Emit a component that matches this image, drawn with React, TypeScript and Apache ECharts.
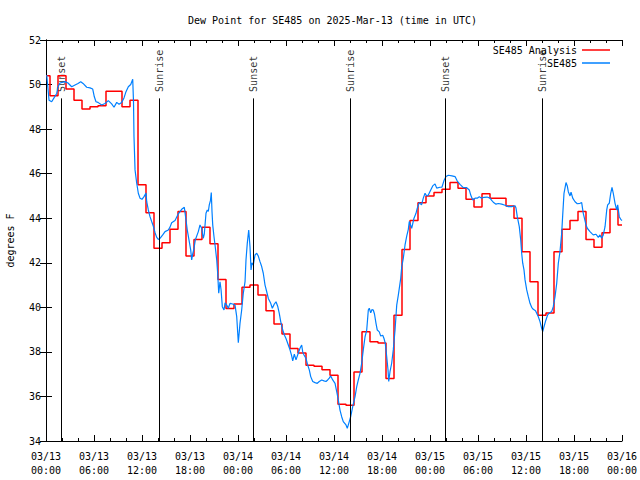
import React, { useEffect, useRef } from "react";
import * as echarts from "echarts";

const TITLE = "Dew Point for SE485 on 2025-Mar-13 (time in UTC)";
const Y_NAME = "degrees F";
const ANALYSIS_NAME = "SE485 Analysis";
const OBS_NAME = "SE485";

// hourly analysis values, hours 0..72 since 2025-03-13 00:00 UTC
const analysisValues = [
  50.4, 49.5, 50.4, 49.8, 49.3, 48.9, 49.0, 49.05, 49.7, 49.7, 49.0, 49.3,
  45.5, 44.25, 42.65, 42.9, 43.5, 44.3, 42.3, 43.05, 43.6, 42.85, 41.25, 39.95,
  40.15, 40.9, 41.0, 40.55, 39.85, 39.25, 38.8, 38.15, 37.95, 37.4, 37.35, 37.2,
  36.95, 35.65, 35.6, 37.1, 38.9, 38.45, 38.4, 36.8, 39.65, 42.6, 43.9, 44.7,
  45.0, 45.15, 45.3, 45.6, 45.35, 44.85, 44.5, 45.1, 44.9, 44.9, 44.55, 44.0,
  42.5, 41.15, 39.65, 39.75, 42.5, 43.5, 43.9, 44.3, 43.05, 42.7, 43.35, 44.4,
  43.7,
];

// observation times (hours since 2025-03-13 00:00 UTC)
const obsHours = [
  0.09, 0.38, 0.71, 1.0, 1.34, 1.5, 1.75, 2.38, 2.75, 3.21, 3.63, 4.0, 4.34, 4.63,
  5.09, 5.5, 5.84, 6.04, 6.25, 6.5, 6.96, 7.38, 7.79, 8.21, 8.5, 8.84, 9.13, 9.46,
  9.75, 10.0, 10.29, 10.59, 10.84, 10.94, 11.0, 11.13, 11.34, 11.54, 11.75, 12.0,
  12.25, 12.5, 12.59, 12.79, 13.0, 13.21, 13.41, 13.63, 13.84, 14.04, 14.25, 14.59,
  14.88, 15.29, 15.5, 15.71, 16.13, 16.54, 16.96, 17.29, 17.5, 17.66, 17.91, 18.09,
  18.21, 18.34, 18.5, 18.66, 19.04, 19.25, 19.46, 19.66, 19.79, 20.0, 20.16, 20.29,
  20.41, 20.56, 20.66, 20.75, 20.84, 21.0, 21.13, 21.34, 21.46, 21.59, 21.75, 21.88,
  22.04, 22.25, 22.38, 22.59, 22.79, 23.0, 23.34, 23.63, 23.84, 24.04, 24.25, 24.46,
  24.66, 24.88, 25.0, 25.16, 25.34, 25.5, 25.63, 25.75, 25.91, 26.13, 26.34, 26.54,
  26.75, 26.96, 27.16, 27.38, 27.59, 27.79, 28.09, 28.29, 28.54, 28.75, 28.96, 29.16,
  29.34, 29.59, 29.81, 30.0, 30.29, 30.5, 30.71, 30.84, 31.04, 31.25, 31.54, 31.75,
  31.96, 32.09, 32.25, 32.5, 32.71, 32.91, 33.09, 33.34, 33.63, 33.91, 34.16, 34.46,
  34.75, 35.0, 35.21, 35.41, 35.59, 35.84, 36.13, 36.34, 36.54, 36.75, 36.96, 37.16,
  37.5, 37.66, 37.91, 38.09, 38.34, 38.63, 38.84, 39.04, 39.25, 39.46, 39.66, 39.88,
  40.09, 40.29, 40.41, 40.59, 40.75, 40.91, 41.06, 41.25, 41.41, 41.66, 41.84, 42.09,
  42.25, 42.41, 42.59, 42.75, 42.84, 43.0, 43.21, 43.41, 43.63, 43.84, 44.04, 44.34,
  44.46, 44.66, 44.88, 45.09, 45.29, 45.41, 45.71, 46.0, 46.25, 46.41, 46.66, 46.94,
  47.16, 47.38, 47.59, 47.79, 48.0, 48.34, 48.63, 48.84, 49.25, 49.5, 49.75, 50.0,
  50.29, 50.75, 51.13, 51.41, 51.75, 52.16, 52.59, 52.91, 53.09, 53.34, 53.63, 53.91,
  54.16, 54.46, 54.75, 55.13, 55.5, 55.71, 55.91, 56.25, 56.54, 56.96, 57.38, 57.79,
  58.21, 58.63, 58.75, 58.91, 59.16, 59.34, 59.46, 59.59, 59.75, 59.88, 60.09, 60.29,
  60.5, 60.71, 60.91, 61.19, 61.54, 61.75, 61.96, 62.09, 62.25, 62.46, 62.71, 62.94,
  63.21, 63.41, 63.63, 63.84, 64.04, 64.25, 64.46, 64.59, 64.75, 65.0, 65.16, 65.29,
  65.5, 65.63, 65.84, 66.13, 66.41, 66.75, 66.96, 67.16, 67.5, 67.66, 68.0, 68.21,
  68.41, 68.75, 69.04, 69.25, 69.46, 69.66, 69.88, 70.09, 70.21, 70.41, 70.59, 70.75,
  70.91, 71.13, 71.34, 71.46, 71.66, 71.84, 72.0,
];

const obsValues = [
  50.43, 49.3, 49.23, 49.4, 49.6, 49.9, 50.07, 50.13, 50.07, 49.9, 49.98, 50.05, 50.13, 50.05,
  49.88, 49.85, 49.8, 49.45, 49.23, 49.2, 49.08, 49.15, 49.28, 49.13, 48.98, 49.2, 49.12, 49.2,
  49.4, 49.68, 49.9, 50.0, 50.24, 49.2, 47.66, 46.17, 45.57, 45.12, 44.9, 44.85,
  44.97, 45.13, 44.74, 44.37, 44.07, 43.85, 43.65, 43.35, 43.14, 43.05, 43.1, 43.25,
  43.4, 43.47, 43.6, 43.8, 43.9, 44.2, 44.4, 44.49, 43.92, 43.47, 42.95, 42.57,
  42.13, 42.4, 42.65, 43.02, 43.4, 43.7, 43.55, 43.1, 43.3, 44.22, 44.37, 44.3,
  44.6, 44.8, 45.15, 44.3, 43.7, 43.17, 42.8, 42.13, 41.53, 40.63, 41.15, 40.8,
  40.03, 39.88, 40.2, 40.1, 39.96, 40.18, 40.15, 40.1, 39.58, 38.41, 39.28, 39.88,
  40.63, 41.15, 42.13, 42.87, 43.47, 42.72, 41.68, 42.0, 41.9, 42.35, 42.43, 42.3,
  42.05, 41.83, 41.53, 41.0, 40.7, 40.4, 40.18, 39.96, 40.15, 40.25, 40.05, 39.73,
  39.36, 38.98, 38.75, 38.6, 38.31, 38.09, 37.82, 37.6, 37.9, 37.64, 37.95, 38.16,
  38.31, 38.0, 37.86, 37.71, 37.41, 37.19, 36.89, 36.67, 36.62, 36.59, 36.67, 36.74,
  36.7, 36.67, 36.74, 36.82, 36.92, 36.74, 36.59, 36.22, 35.84, 35.39, 35.09, 34.87,
  34.72, 34.57, 34.87, 35.1, 35.54, 35.99, 36.44, 36.74, 37.04, 37.49, 38.09, 38.68,
  38.98, 39.88, 39.96, 39.75, 39.9, 39.88, 39.7, 39.28, 38.98, 38.9, 38.71, 38.75,
  38.6, 38.38, 37.78, 37.2, 36.67, 37.11, 37.49, 38.09, 38.98, 40.1, 40.55, 41.3,
  41.8, 42.2, 42.8, 43.2, 43.5, 43.85, 43.55, 44.0, 44.22, 44.45, 44.7, 44.6,
  44.9, 45.12, 45.0, 45.04, 45.2, 45.45, 45.54, 45.35, 45.39, 45.4, 45.69, 45.87,
  45.93, 45.9, 45.87, 45.67, 45.52, 45.37, 45.37, 45.27, 45.04, 44.82, 44.9, 44.9,
  44.96, 44.9, 44.94, 44.95, 44.9, 44.8, 44.72, 44.63, 44.66, 44.63, 44.58, 44.52,
  44.52, 44.56, 44.46, 44.07, 43.62, 43.02, 42.43, 41.98, 41.68, 41.23, 40.78, 40.48,
  40.18, 40.0, 39.91, 39.85, 39.58, 39.36, 39.06, 38.91, 39.13, 39.4, 39.66, 39.75,
  39.81, 40.03, 40.48, 41.08, 41.98, 42.5, 43.32, 44.15, 45.12, 45.6, 45.45, 45.19,
  45.0, 45.17, 44.9, 44.74, 44.65, 44.67, 44.7, 44.22, 43.7, 43.55, 43.4, 43.32,
  43.25, 43.28, 43.14, 43.25, 43.1, 43.25, 43.62, 44.37, 44.6, 44.67, 45.12, 45.39,
  45.12, 44.67, 44.37, 44.6, 44.07, 43.95, 43.9,
];

const sunLabels = ["Sunset", "Sunrise", "Sunset", "Sunrise", "Sunset", "Sunrise"];
const sunHours = [1.9, 14.15, 25.9, 38.05, 49.9, 62.0];

const FONT = "'DejaVu Sans Mono', 'Liberation Mono', monospace";

export default function App() {
  const ref = useRef<HTMLDivElement>(null);
  useEffect(() => {
    if (!ref.current) return;
    const chart = echarts.init(ref.current, null, { renderer: "svg" });
    const fmtX = (v: number) => {
      const day = 13 + Math.floor(v / 24);
      const hh = v % 24;
      return `03/${day}\n${String(hh).padStart(2, "0")}:00`;
    };
    const lineTop = 49.38;
    const labelBase = 49.67;
    const xCommon = {
      type: "value",
      min: 0,
      max: 72,
      interval: 6,
      splitLine: { show: false },
      axisLine: { show: true, lineStyle: { color: "#000", width: 1 } },
      axisTick: { show: true, inside: true, length: 6, lineStyle: { color: "#000" } },
      minorTick: { show: true, splitNumber: 3, length: 3, lineStyle: { color: "#000" } },
    };
    const yCommon = {
      type: "value",
      min: 34,
      max: 52,
      interval: 2,
      splitLine: { show: false },
      axisLine: { show: true, lineStyle: { color: "#000", width: 1 } },
      axisTick: { show: true, inside: true, length: 6, lineStyle: { color: "#000" } },
    };
    chart.setOption({
      animation: false,
      backgroundColor: "#fff",
      title: {
        text: TITLE,
        left: 188,
        top: 15,
        padding: 0,
        textStyle: { fontFamily: FONT, fontSize: 10, fontWeight: "normal", color: "#000" },
      },
      legend: {
        data: [ANALYSIS_NAME, OBS_NAME],
        orient: "vertical",
        right: 30,
        top: 44,
        align: "right",
        icon: "rect",
        itemWidth: 28,
        itemHeight: 1.5,
        itemGap: 1,
        padding: 0,
        textStyle: { fontFamily: FONT, fontSize: 10, color: "#000", lineHeight: 12 },
      },
      grid: {
        left: 46,
        right: 18,
        top: 40,
        bottom: 39,
        containLabel: false,
        outerBoundsMode: "none",
      },
      xAxis: [
        {
          ...xCommon,
          position: "bottom",
          axisLabel: {
            formatter: fmtX,
            fontFamily: FONT,
            fontSize: 10,
            color: "#000",
            lineHeight: 14,
            margin: 8,
          },
        },
        { ...xCommon, position: "top", axisLabel: { show: false } },
      ],
      yAxis: [
        {
          ...yCommon,
          position: "left",
          name: Y_NAME,
          nameLocation: "middle",
          nameRotate: 90,
          nameGap: 31,
          nameTextStyle: { fontFamily: FONT, fontSize: 10, color: "#000" },
          axisLabel: { fontFamily: FONT, fontSize: 10, color: "#000", margin: 5 },
        },
        { ...yCommon, position: "right", axisLabel: { show: false } },
      ],
      series: [
        {
          name: "sun",
          type: "scatter",
          symbolSize: 0,
          silent: true,
          data: sunHours.map((h, i) => ({ value: [h, labelBase], name: sunLabels[i] })),
          label: {
            show: true,
            position: "inside",
            formatter: (p: any) => p.name,
            rotate: 90,
            align: "left",
            verticalAlign: "middle",
            fontFamily: FONT,
            fontSize: 10,
            color: "#000",
          },
          markLine: {
            silent: true,
            symbol: ["none", "none"],
            label: { show: false },
            lineStyle: { color: "#000", width: 1, type: "solid" },
            data: sunHours.map((h) => [{ coord: [h, lineTop] }, { coord: [h, 34] }]),
          },
        },
        {
          name: ANALYSIS_NAME,
          type: "line",
          step: "middle",
          showSymbol: false,
          symbol: "none",
          color: "#ff0000",
          lineStyle: { color: "#ff0000", width: 1.5 },
          data: analysisValues.map((v, k) => [k, v]),
        },
        {
          name: OBS_NAME,
          type: "line",
          showSymbol: false,
          symbol: "none",
          color: "#0080ff",
          lineStyle: { color: "#0080ff", width: 1.2 },
          data: obsHours.map((h, i) => [h, obsValues[i]]),
        },
      ],
    });
    return () => chart.dispose();
  }, []);
  return (
    <div
      ref={ref}
      style={{ position: "fixed", left: 0, top: 0, width: 640, height: 480, background: "#fff" }}
    />
  );
}
